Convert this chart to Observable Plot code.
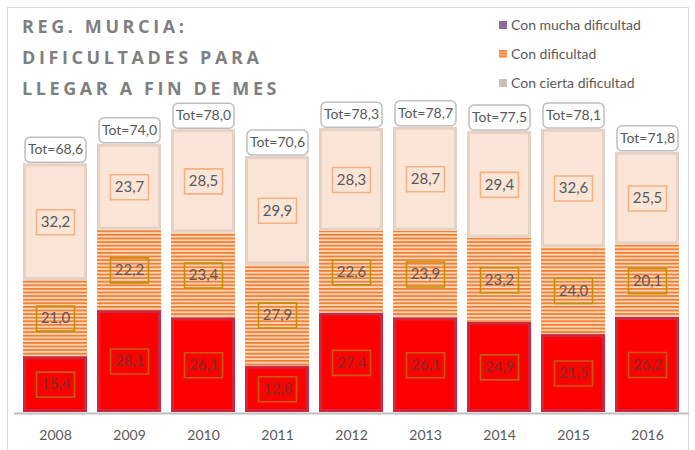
<!DOCTYPE html>
<html>
<head>
<meta charset="utf-8">
<script src="https://cdn.jsdelivr.net/npm/d3@7"></script>
<script src="https://cdn.jsdelivr.net/npm/@observablehq/plot@0.6"></script>
<style>
  html, body { margin: 0; padding: 0; background: #fff; }
  #wrap { position: relative; width: 695px; height: 450px; overflow: hidden; font-family: Lato, "Open Sans", sans-serif; }
  #frame { position: absolute; left: 7px; top: 7px; width: 682px; height: 460px; border: 1.5px solid #D9D9D9; box-sizing: border-box; }
  #chart { position: absolute; left: 0; top: 0; }
  #title { position: absolute; left: 22px; top: 11px; font-family: "Open Sans", sans-serif; font-weight: 700; font-size: 18px; line-height: 31px; letter-spacing: 3.6px; color: #7F7F7F; white-space: nowrap; }
  #legend { position: absolute; left: 499px; top: 10px; font-size: 14px; color: #595959; }
  .row { height: 29px; display: flex; align-items: center; }
  .sw { width: 8px; height: 8px; margin-right: 4px; }
</style>
</head>
<body>
<div id="wrap">
  <div id="frame"></div>
  <div id="chart"></div>
  <div id="title">REG. MURCIA:<br>DIFICULTADES PARA<br>LLEGAR A FIN DE MES</div>
  <div id="legend"></div>
</div>
<script>
const years = ["2008", "2009", "2010", "2011", "2012", "2013", "2014", "2015", "2016"];
const seriesNames = ["Con mucha dificultad", "Con dificultad", "Con cierta dificultad"];
const mucha = [15.4, 28.1, 26.1, 12.8, 27.4, 26.1, 24.9, 21.5, 26.2];
const dificultad = [21.0, 22.2, 23.4, 27.9, 22.6, 23.9, 23.2, 24.0, 20.1];
const cierta = [32.2, 23.7, 28.5, 29.9, 28.3, 28.7, 29.4, 32.6, 25.5];
const totals = [68.6, 74.0, 78.0, 70.6, 78.3, 78.7, 77.5, 78.1, 71.8];
const legendColors = ["#8D6A9F", "url(#hatchL)", "#C8C0BB"];

const values = [mucha, dificultad, cierta];
const rows = [];
years.forEach((year, i) => {
  let cum = 0;
  seriesNames.forEach((s, j) => {
    const v = values[j][i];
    rows.push({year, series: s, value: v, y1: cum, y2: cum + v, mid: cum + v / 2});
    cum += v;
  });
});
const totRows = years.map((year, i) => ({year, total: totals[i]}));
const fmt = v => v.toFixed(1).replace(".", ",");
const bySeries = s => rows.filter(d => d.series === s);

function boxSymbol(w, h, r = 0) {
  return {
    draw(ctx) {
      const x0 = -w / 2, y0 = -h / 2, x1 = w / 2, y1 = h / 2;
      if (!r) { ctx.rect(x0, y0, w, h); return; }
      ctx.moveTo(x0 + r, y0);
      ctx.lineTo(x1 - r, y0); ctx.arcTo(x1, y0, x1, y0 + r, r);
      ctx.lineTo(x1, y1 - r); ctx.arcTo(x1, y1, x1 - r, y1, r);
      ctx.lineTo(x0 + r, y1); ctx.arcTo(x0, y1, x0, y1 - r, r);
      ctx.lineTo(x0, y0 + r); ctx.arcTo(x0, y0, x0 + r, y0, r);
      ctx.closePath();
    }
  };
}
const labelBox = boxSymbol(38, 25);
const totBox = boxSymbol(61, 25, 5);

const [sM, sD, sC] = seriesNames;
const textColors = {[sM]: "#7a2f2f", [sD]: "#595959", [sC]: "#595959"};
const boxColors = {[sM]: "#C55A11", [sD]: "#BF9000", [sC]: "#F4B183"};

const marks = [
  Plot.barY(bySeries(sM), {x: "year", y1: "y1", y2: "y2", fill: "#FF0000"}),
  Plot.barY(bySeries(sM), {x: "year", y1: "y1", y2: "y2", fill: "none", stroke: "#8064A2", strokeOpacity: 0.4, strokeWidth: 3, inset: 1.5}),
  Plot.barY(bySeries(sD), {x: "year", y1: "y1", y2: "y2", fill: "url(#hatch)"}),
  Plot.barY(bySeries(sC), {x: "year", y1: "y1", y2: "y2", fill: "#FBE5D6"}),
  Plot.barY(bySeries(sC), {x: "year", y1: "y1", y2: "y2", fill: "none", stroke: "#C9BBB1", strokeOpacity: 0.45, strokeWidth: 3, inset: 1.5}),
  Plot.ruleY([0], {stroke: "#BFBFBF", strokeWidth: 2, dy: 1}),
  Plot.axisX({tickSize: 0, tickPadding: 18, fontSize: 14, label: null})
];
for (const s of seriesNames) {
  marks.push(Plot.dot(bySeries(s), {x: "year", y: "mid", symbol: labelBox, fill: "none", stroke: boxColors[s], strokeWidth: 1.6}));
  marks.push(Plot.text(bySeries(s), {x: "year", y: "mid", text: d => fmt(d.value), fill: textColors[s], fontSize: 15}));
}
marks.push(Plot.dot(totRows, {x: "year", y: "total", dy: -14, symbol: totBox, fill: "white", stroke: "#BFBFBF", strokeWidth: 1.5}));
marks.push(Plot.text(totRows, {x: "year", y: "total", dy: -14, text: d => "Tot=" + fmt(d.total), fill: "#595959", fontSize: 14}));

const svg = Plot.plot({
  width: 695,
  height: 450,
  marginTop: 49.5,
  marginBottom: 38,
  marginLeft: 14,
  marginRight: 6,
  style: {fontFamily: "Lato, sans-serif", color: "#595959", background: "transparent"},
  x: {domain: years, paddingInner: 0.1333, paddingOuter: 0.0667},
  y: {domain: [0, 100], axis: null},
  marks
});

const defs = d3.select(svg).insert("defs", ":first-child");
const p = defs.append("pattern").attr("id", "hatch").attr("patternUnits", "userSpaceOnUse")
  .attr("width", 8).attr("height", 3.6);
p.append("rect").attr("width", 8).attr("height", 3.6).attr("fill", "#FCD6BA");
p.append("rect").attr("width", 8).attr("height", 1.7).attr("fill", "#F37B2C");
document.getElementById("chart").appendChild(svg);

// legend
const legend = d3.select("#legend");
seriesNames.forEach((s, i) => {
  const row = legend.append("div").attr("class", "row");
  const sw = row.append("svg").attr("class", "sw").attr("width", 8).attr("height", 8);
  if (i === 1) {
    const d2 = sw.append("defs");
    const pl = d2.append("pattern").attr("id", "hatchL").attr("patternUnits", "userSpaceOnUse").attr("width", 8).attr("height", 2.7);
    pl.append("rect").attr("width", 8).attr("height", 2.7).attr("fill", "#FBC39A");
    pl.append("rect").attr("width", 8).attr("height", 1.5).attr("fill", "#F37B2C");
  }
  sw.append("rect").attr("width", 8).attr("height", 8).attr("fill", legendColors[i]);
  row.append("span").text(s);
});
</script>
</body>
</html>
